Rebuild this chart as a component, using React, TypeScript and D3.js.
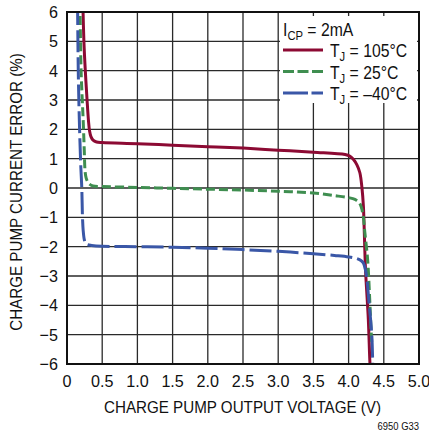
import React from "react";
import * as d3 from "d3";

const xTicks = [0, 0.5, 1.0, 1.5, 2.0, 2.5, 3.0, 3.5, 4.0, 4.5, 5.0];
const xTickLabels = ["0", "0.5", "1.0", "1.5", "2.0", "2.5", "3.0", "3.5", "4.0", "4.5", "5.0"];
const yTicks = [-6, -5, -4, -3, -2, -1, 0, 1, 2, 3, 4, 5, 6];

const v105 = [0.225, 0.24, 0.26, 0.285, 0.305, 0.32, 0.34, 0.37, 0.42, 0.5, 1.0, 1.5, 2.0, 2.5, 3.0, 3.5, 3.95, 4.02, 4.07, 4.12, 4.16, 4.19, 4.21, 4.24, 4.28, 4.30, 4.31];
const e105 = [6.3, 5.0, 4.0, 3.0, 2.3, 1.95, 1.75, 1.63, 1.57, 1.55, 1.51, 1.46, 1.41, 1.36, 1.29, 1.22, 1.14, 1.08, 0.97, 0.78, 0.52, 0.0, -0.62, -2.77, -4.47, -5.8, -6.3];

const v25 = [0.185, 0.2, 0.23, 0.245, 0.255, 0.265, 0.28, 0.3, 0.32, 0.37, 0.5, 1.0, 1.5, 2.0, 2.5, 3.0, 3.5, 3.8, 4.0, 4.09, 4.15, 4.18, 4.21, 4.23, 4.27, 4.3, 4.32, 4.33];
const e25 = [6.3, 4.0, 2.3, 1.3, 0.63, 0.42, 0.28, 0.19, 0.13, 0.07, 0.05, 0.02, -0.01, -0.04, -0.07, -0.11, -0.17, -0.26, -0.33, -0.39, -0.5, -0.65, -1.0, -1.5, -2.43, -3.8, -4.9, -5.3];

const vm40 = [0.15, 0.16, 0.175, 0.195, 0.21, 0.22, 0.23, 0.245, 0.26, 0.28, 0.35, 0.5, 1.0, 1.5, 2.0, 2.5, 3.0, 3.5, 3.8, 4.0, 4.12, 4.18, 4.21, 4.24, 4.26, 4.29, 4.33, 4.345];
const em40 = [6.3, 4.0, 2.33, 0.8, 0.0, -1.0, -1.45, -1.75, -1.86, -1.92, -1.96, -1.99, -2.0, -2.02, -2.05, -2.1, -2.16, -2.24, -2.3, -2.35, -2.41, -2.48, -2.56, -2.8, -3.11, -3.9, -5.04, -6.3];

const seriesNames = ["105°C", "25°C", "–40°C"];
const seriesColors = ["#8c0a33", "#3f8e50", "#3a57a7"];
const seriesDash = ["none", "9,4", "22,5"];
const legendDash = ["none", "11,3.5", "25,3.5"];

const FONT = "'Liberation Sans', Arial, Helvetica, sans-serif";

export default function App() {
  const W = 429, H = 433;
  const left = 67, right = 419, top = 12, bottom = 364;
  const x = d3.scaleLinear().domain([0, 5]).range([left, right]);
  const y = d3.scaleLinear().domain([-6, 6]).range([bottom, top]);
  const lineX = d3.line<[number, number]>().x(d => x(d[0])).y(d => y(d[1])).curve(d3.curveCatmullRom.alpha(0.5));
  const series = [
    d3.zip(v105, e105) as [number, number][],
    d3.zip(v25, e25) as [number, number][],
    d3.zip(vm40, em40) as [number, number][],
  ];
  const fmt = (v: number) => (v < 0 ? "−" + Math.abs(v) : String(v));

  return (
    <svg width={W} height={H} style={{ position: "absolute", left: 0, top: 0, background: "#fff" }} fontFamily={FONT}>
      <defs>
        <clipPath id="plot">
          <rect x={left} y={top} width={right - left} height={bottom - top} />
        </clipPath>
      </defs>
      {/* grid */}
      {xTicks.map(t => (
        <line key={"gx" + t} x1={x(t)} x2={x(t)} y1={top} y2={bottom} stroke="#2a2a2a" strokeWidth={1.3} />
      ))}
      {yTicks.map(t => (
        <line key={"gy" + t} x1={left} x2={right} y1={y(t)} y2={y(t)} stroke="#2a2a2a" strokeWidth={1.3} />
      ))}
      {/* legend background */}
      <rect x={280} y={16} width={137} height={87} fill="#fff" />
      {/* curves */}
      <g clipPath="url(#plot)">
        {series.map((s, i) => (
          <path key={i} d={lineX(s) || ""} fill="none" stroke={seriesColors[i]} strokeWidth={3}
            strokeDasharray={seriesDash[i]} strokeLinejoin="round" />
        ))}
      </g>
      {/* border */}
      <rect x={left} y={top} width={right - left} height={bottom - top} fill="none" stroke="#111" strokeWidth={2} />
      {/* y tick labels */}
      {yTicks.map(t => (
        <text key={"ly" + t} transform={`translate(58, ${y(t)}) scale(0.95,1)`} dy="0.36em" textAnchor="end" fontSize={17} fill="#111">{fmt(t)}</text>
      ))}
      {/* x tick labels */}
      {xTicks.map((t, i) => (
        <text key={"lx" + t} transform={`translate(${x(t)}, 387) scale(0.95,1)`} textAnchor="middle" fontSize={17} fill="#111">{xTickLabels[i]}</text>
      ))}
      <text transform={`translate(242.5, 413) scale(0.92,1)`} textAnchor="middle" fontSize={16.5} fill="#111">CHARGE PUMP OUTPUT VOLTAGE (V)</text>
      <text transform={`translate(22, ${(top + bottom) / 2 + 4}) rotate(-90) scale(0.92,1)`} textAnchor="middle" fontSize={16.5} fill="#111">CHARGE PUMP CURRENT ERROR (%)</text>
      <text transform={`translate(419, 430) scale(0.9,1)`} textAnchor="end" fontSize={10.5} fill="#111">6950 G33</text>
      {/* legend */}
      <text transform={`translate(283, 36) scale(0.9,1)`} fontSize={17.5} fill="#111">I<tspan fontSize={12.5} dy={4}>CP</tspan><tspan dy={-4}> = 2mA</tspan></text>
      {seriesNames.map((n, i) => (
        <g key={"lg" + i}>
          <line x1={283} x2={323} y1={50 + i * 21.5} y2={50 + i * 21.5} stroke={seriesColors[i]} strokeWidth={3}
            strokeDasharray={legendDash[i]} />
          <text transform={`translate(330, ${57 + i * 21.5}) scale(0.9,1)`} fontSize={17.5} fill="#111">T<tspan fontSize={12.5} dy={4}>J</tspan><tspan dy={-4}> = {n}</tspan></text>
        </g>
      ))}
    </svg>
  );
}
